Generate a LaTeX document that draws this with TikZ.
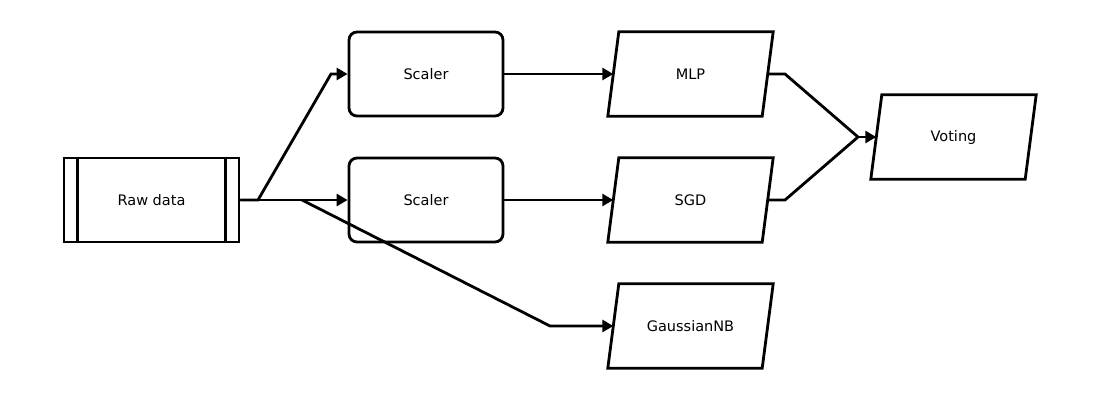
\documentclass[tikz,border=0pt]{standalone}
\usepackage{fontspec}
\setmainfont{DejaVu Sans}
\usetikzlibrary{arrows.meta}

\begin{document}
\begin{tikzpicture}[x=1pt,y=-1pt,
  font=\fontsize{14.5}{17}\selectfont,
  box/.style={draw,line width=2.8pt,minimum width=175pt,minimum height=84pt,inner sep=0pt},
  scaler/.style={draw,line width=2.8pt,rounded corners=8pt,minimum width=154pt,minimum height=84pt,inner sep=0pt},
  para/.style={minimum width=154pt,minimum height=84pt,inner sep=0pt},
  link/.style={line width=2.8pt,-{Triangle[length=11pt,width=12pt]}},
  wire/.style={line width=2.8pt}]
\useasboundingbox (0,0) rectangle (1100,400);
% boxes
\node (raw) [box] at (151.5,200) {Raw data};
\draw[wire] ([xshift=15pt]raw.north west)--([xshift=15pt]raw.south west);
\draw[wire] ([xshift=-15pt]raw.north east)--([xshift=-15pt]raw.south east);
\node (sc1) [scaler] at (426,74) {Scaler};
\node (sc2) [scaler] at (426,200) {Scaler};
\node (mlp) [para] at (690.5,74) {MLP};
\node (sgd) [para] at (690.5,200) {SGD};
\node (gnb) [para] at (690.5,326) {GaussianNB};
\node (vot) [para] at (953.5,137) {Voting};
\foreach \n in {mlp,sgd,gnb,vot}
  \draw[wire,line join=miter] ([xshift=5.5pt]\n.north west)--([xshift=5.5pt]\n.north east)
    --([xshift=-5.5pt]\n.south east)--([xshift=-5.5pt]\n.south west)--cycle;
% bends
\coordinate (a1) at (258,200);
\coordinate (a2) at (331,74);
\coordinate (b1) at (302,200);
\coordinate (b2) at (550,326);
\coordinate (c1) at (785,74);
\coordinate (c2) at (785,200);
\coordinate (v) at (858,137);
% links
\draw[link] (raw.east)--(a1)--(a2)--(sc1.west);
\draw[link] (raw.east)--(sc2.west);
\draw[link] (b1)--(b2)--(gnb.west);
\draw[link] (sc1.east)--(mlp.west);
\draw[link] (sc2.east)--(sgd.west);
\draw[wire] (mlp.east)--(c1)--(v);
\draw[wire] (sgd.east)--(c2)--(v);
\draw[link] (v)--(vot.west);
\end{tikzpicture}
\end{document}
